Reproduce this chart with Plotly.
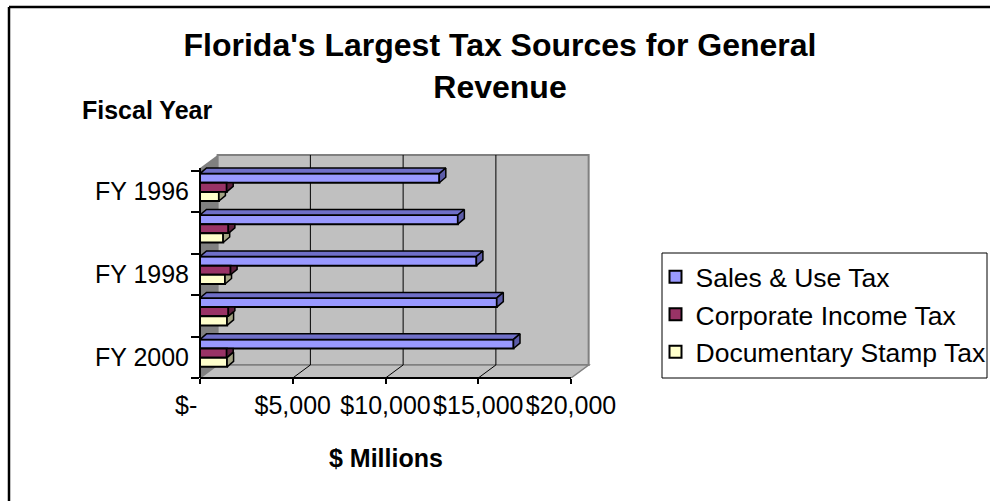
import plotly.graph_objects as go

# ---- data (US$ millions) ----
fiscal_years = ["FY 1996", "FY 1997", "FY 1998", "FY 1999", "FY 2000"]
sales_use_tax = [12900, 13900, 14900, 16000, 16900]
corporate_income_tax = [1440, 1530, 1650, 1530, 1440]
documentary_stamp_tax = [1020, 1250, 1350, 1460, 1460]
series_names = ["Sales & Use Tax", "Corporate Income Tax", "Documentary Stamp Tax"]
value_ticks = [0, 5000, 10000, 15000, 20000]
value_tick_labels = ["$-" + "\u00a0" * 4, "$5,000", "$10,000", "$15,000", "$20,000"]
labelled_years = ["FY 1996", "FY 1998", "FY 2000"]

# ---- page / plot geometry ----
W, H = 990, 501
M_L, M_R, M_T, M_B = 200, 393, 150, 123
PLOT_W, PLOT_H = W - M_L - M_R, H - M_T - M_B
X_RANGE = [0, 21400]
Y_RANGE = [-0.5, 5.0]
AXIS_MAX = value_ticks[-1]

# oblique "3-D" offsets in data units
WALL_DX, WALL_DY = 950, 0.314
BAR_DX, BAR_DY = 350, 0.133
BAR_H = 0.221
CLUSTER_SHIFT = 0.1
FRONT_TOP = 4.566
FLOOR = Y_RANGE[0]

FONT = "Liberation Sans, Arial, sans-serif"

FRONT = ["#9999FF", "#993366", "#FFFFCC"]
TOP = ["#6F6FC8", "#7A2952", "#CCCCA3"]
SIDE = ["#5C5CA8", "#5C1F3D", "#A3A383"]


def px_x(px):
    return (px - M_L) / PLOT_W


def px_y(py):
    return (H - M_B - py) / PLOT_H


n = len(fiscal_years)
centers = [n - 1 - i for i in range(n)]
series = [sales_use_tax, corporate_income_tax, documentary_stamp_tax]
slots = [1, 0, -1]  # vertical slot of each series inside a cluster (top to bottom)

fig = go.Figure()

# front faces of the bars
for s, (name, vals) in enumerate(zip(series_names, series)):
    yc = [c + CLUSTER_SHIFT + slots[s] * BAR_H for c in centers]
    fig.add_trace(go.Bar(
        x=vals, y=yc, base=0, orientation="h", width=BAR_H, name=name,
        legendgroup=name,
        marker=dict(color=FRONT[s], line=dict(color="black", width=2)),
        hoverinfo="skip",
    ))

k = BAR_DY / BAR_DX
# top and side faces (only the parts not hidden by the bar above)
for s, vals in enumerate(series):
    tops_x, tops_y, side_x, side_y = [], [], [], []
    for i, c in enumerate(centers):
        v = vals[i]
        yc = c + CLUSTER_SHIFT + slots[s] * BAR_H
        yt, yb = yc + BAR_H / 2, yc - BAR_H / 2
        if s == 0:
            tops_x += [0, v, v + BAR_DX, BAR_DX, 0, None]
            tops_y += [yt, yt, yt + BAR_DY, yt + BAR_DY, yt, None]
            side_x += [v, v + BAR_DX, v + BAR_DX, v, v, None]
            side_y += [yt, yt + BAR_DY, yb + BAR_DY, yb, yt, None]
        else:
            vu = series[s - 1][i]
            p = min(max(vu, v), v + BAR_DX)
            side_x += [v, p, v + BAR_DX, v + BAR_DX, v, v, None]
            side_y += [yt, yt, yt + (v + BAR_DX - p) * k, yb + BAR_DY, yb, yt, None]
    if tops_x:
        fig.add_trace(go.Scatter(
            x=tops_x, y=tops_y, mode="lines", fill="toself", fillcolor=TOP[s],
            line=dict(color="black", width=1.5), showlegend=False, hoverinfo="skip"))
    fig.add_trace(go.Scatter(
        x=side_x, y=side_y, mode="lines", fill="toself", fillcolor=SIDE[s],
        line=dict(color="black", width=1.5), showlegend=False, hoverinfo="skip"))

shapes = []
# back wall
shapes.append(dict(type="rect", xref="x", yref="y", layer="below",
                   x0=WALL_DX, x1=AXIS_MAX + WALL_DX,
                   y0=FLOOR + WALL_DY, y1=FRONT_TOP + WALL_DY,
                   fillcolor="#C0C0C0", line=dict(color="#808080", width=2)))
# side wall
shapes.append(dict(type="path", xref="x", yref="y", layer="below",
                   path=f"M 0,{FLOOR} L 0,{FRONT_TOP} L {WALL_DX},{FRONT_TOP + WALL_DY} "
                        f"L {WALL_DX},{FLOOR + WALL_DY} Z",
                   fillcolor="#808080", line=dict(width=0)))
# floor
shapes.append(dict(type="path", xref="x", yref="y", layer="below",
                   path=f"M 0,{FLOOR} L {AXIS_MAX},{FLOOR} L {AXIS_MAX + WALL_DX},{FLOOR + WALL_DY} "
                        f"L {WALL_DX},{FLOOR + WALL_DY} Z",
                   fillcolor="#C0C0C0", line=dict(color="#808080", width=1.5)))
# gridlines on back wall and floor
for v in value_ticks[1:-1]:
    shapes.append(dict(type="line", xref="x", yref="y", layer="below",
                       x0=v + WALL_DX, x1=v + WALL_DX,
                       y0=FLOOR + WALL_DY, y1=FRONT_TOP + WALL_DY,
                       line=dict(color="black", width=1)))
    shapes.append(dict(type="line", xref="x", yref="y", layer="below",
                       x0=v, x1=v + WALL_DX, y0=FLOOR, y1=FLOOR + WALL_DY,
                       line=dict(color="black", width=1)))
# front axis lines
shapes.append(dict(type="line", xref="x", yref="paper", x0=0, x1=AXIS_MAX, y0=0, y1=0,
                   line=dict(color="black", width=2)))
shapes.append(dict(type="line", xref="paper", yref="y", x0=0, x1=0, y0=FLOOR, y1=FRONT_TOP,
                   line=dict(color="black", width=2)))
# chart frame (top and left edges)
shapes.append(dict(type="line", xref="paper", yref="paper",
                   x0=px_x(9), x1=px_x(1000), y0=px_y(7), y1=px_y(7),
                   line=dict(color="black", width=2.5)))
shapes.append(dict(type="line", xref="paper", yref="paper",
                   x0=px_x(9), x1=px_x(9), y0=px_y(7), y1=px_y(510),
                   line=dict(color="black", width=2.5)))
# legend box
shapes.append(dict(type="rect", xref="paper", yref="paper",
                   x0=px_x(662), x1=px_x(987), y0=px_y(378), y1=px_y(253),
                   line=dict(color="black", width=1)))

annotations = [
    dict(text="<b>Fiscal Year</b>", xref="paper", yref="paper",
         x=px_x(147), y=px_y(110), xanchor="center", yanchor="middle", showarrow=False,
         font=dict(family=FONT, size=25, color="black")),
    dict(text="<b>$ Millions</b>", xref="x", yref="paper",
         x=AXIS_MAX / 2, y=px_y(458), xanchor="center", yanchor="middle", showarrow=False,
         font=dict(family=FONT, size=25, color="black")),
]

fig.update_layout(
    width=W, height=H,
    margin=dict(l=M_L, r=M_R, t=M_T, b=M_B, autoexpand=False),
    paper_bgcolor="white", plot_bgcolor="white",
    barmode="overlay",
    hovermode=False,
    title=dict(text="Florida's Largest Tax Sources for General<br>Revenue",
               x=500 / W, xanchor="center", y=1 - 56 / H, yanchor="top",
               font=dict(family=FONT, size=32, color="black", weight="bold")),
    xaxis=dict(range=X_RANGE, tickmode="array", tickvals=value_ticks,
               ticktext=value_tick_labels, ticks="outside", ticklen=5, tickangle=0,
               tickcolor="black", tickwidth=1.5, showgrid=False, zeroline=False,
               showline=False, fixedrange=True, automargin=False,
               tickfont=dict(family=FONT, size=25, color="black")),
    yaxis=dict(range=Y_RANGE, tickmode="array",
               tickvals=[centers[fiscal_years.index(y)] for y in labelled_years],
               ticktext=labelled_years, ticks="", ticklabelstandoff=10,
               minor=dict(tickmode="array",
                          tickvals=[c - 0.5 for c in centers] + [centers[0] + 0.5],
                          ticks="outside", ticklen=8, tickcolor="black", tickwidth=1.5,
                          showgrid=False),
               showgrid=False, zeroline=False, showline=False, fixedrange=True,
               automargin=False,
               tickfont=dict(family=FONT, size=25, color="black")),
    legend=dict(x=px_x(655.5), y=px_y(253), xanchor="left", yanchor="top",
                bgcolor="rgba(0,0,0,0)", borderwidth=0,
                traceorder="grouped", tracegroupgap=0,
                font=dict(family=FONT, size=26.5, color="black")),
    shapes=shapes,
    annotations=annotations,
)

fig.write_html("out.html")
